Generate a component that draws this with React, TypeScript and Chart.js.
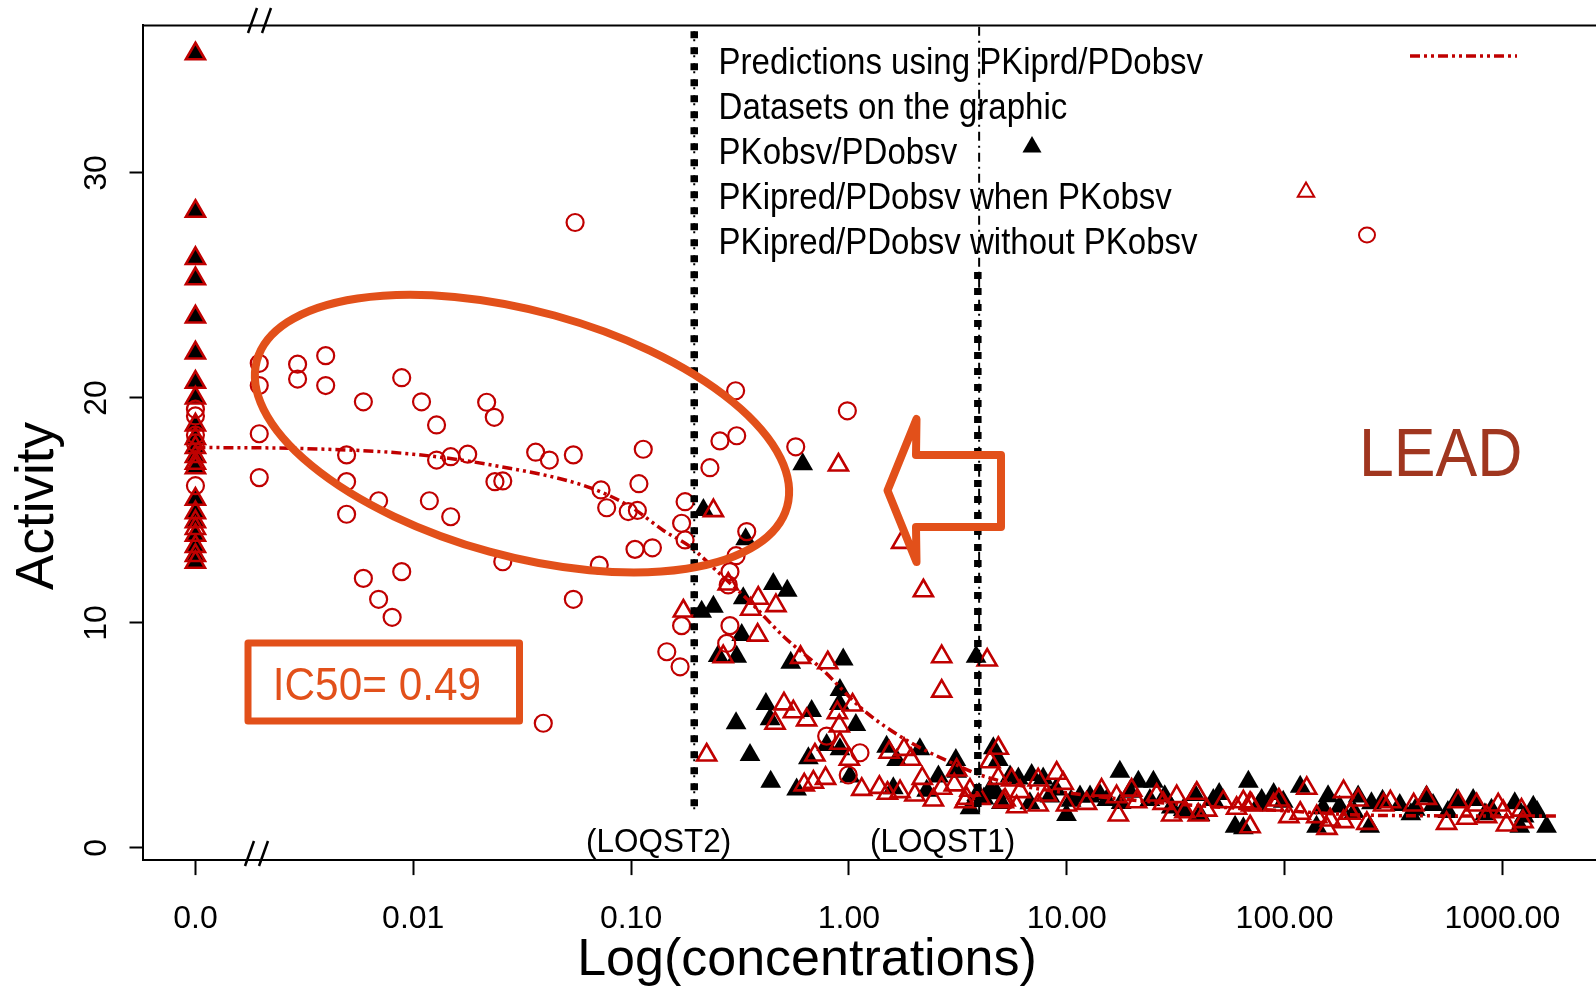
import React, { useEffect, useRef } from 'react';
import { Chart, registerables } from 'chart.js';

Chart.register(...registerables);

// ---------- axis ticks ----------
const X_TICK_VALUES = [-3, -2, -1, 0, 1, 2, 3];
const X_TICK_LABELS = ['0.0', '0.01', '0.10', '1.00', '10.00', '100.00', '1000.00'];
const Y_TICK_VALUES = [0, 10, 20, 30];

// ---------- limits of quantification (log10 concentration) ----------
const LOQST2 = -0.71;
const LOQST1 = 0.592;
const LOQST1_THIN = 0.598;
const LOQ_TOP = 36.3;
const LOQ_SPLIT = 25.6;
const LOQ_BOTTOM = 1.5;

// ---------- prediction curve (PKiprd/PDobsv) ----------
const predLogConc = [-3, -2.5, -2.0, -1.6, -1.2, -1.0, -0.85, -0.73, -0.6, -0.45, -0.3, -0.13, 0.07, 0.28, 0.48, 0.6, 0.8, 1.0, 1.5, 2.0, 2.4, 3.0, 3.25];
const predActivity = [17.8, 17.75, 17.5, 16.95, 16.05, 15.15, 14.1, 13.4, 12.25, 10.9, 9.4, 8.0, 6.1, 4.7, 3.75, 3.25, 2.75, 2.45, 1.95, 1.65, 1.45, 1.42, 1.42];

// ---------- PKobsv/PDobsv (black filled triangles) ----------
const pkObsvLogConc = [
  -3, -3, -3, -3, -3, -3, -3, -3, -3, -3, -3, -3, -3, -3, -3, -3, -3, -3, -3, -3,
  -0.212, -0.668, -0.474, -0.347, -0.283, -0.485, -0.622, -0.676, -0.492, -0.600,
  -0.515, -0.267, -0.026, 0.584, -0.041, -0.381, -0.044, -0.171, -0.362, -0.518,
  0.032, -0.102, -0.041, -0.186, -0.454, 0.173, 0.326, 0.219, 0.491, -0.359,
  -0.240, 0.005, 0.204, 0.357, 0.411, 0.495, 0.587, 0.663, 0.678,
  0.686, 0.556, 0.648, 0.740, 0.778, 0.839, 0.892, 0.999, 1.061, 1.244,
  1.329, 1.398, 1.184, 1.290, 1.589, 1.673, 1.834, 1.773, 1.535, 1.612,
  0.923, 0.831, 1.107, 1.382,
  2.072, 1.994, 1.895, 2.338, 2.399, 2.529, 2.652, 2.682, 2.790, 2.866,
  3.057, 3.142, 3.203, 2.391, 2.177, 2.253, 3.080, 2.147, 1.811,
  0.62, 0.70, 0.95, 1.15, 1.45, 1.70, 1.95, 2.20, 2.45, 2.60, 2.75, 2.95, 3.10,
  1.02, 1.25, 1.48, 1.88, 2.32, 2.58, 2.92, 3.16,
];
const pkObsvActivity = [
  35.3, 28.3, 26.2, 25.3, 23.6, 22.0, 20.7, 20.0, 18.8, 18.2, 17.8, 17.4, 16.9, 15.5, 14.9, 14.5, 13.9, 13.4, 13.0, 12.7,
  17.05, 15.02, 13.72, 11.73, 11.43, 11.10, 10.72, 10.50, 9.46, 8.53,
  8.50, 8.23, 8.38, 8.50, 7.02, 6.40, 6.40, 6.09, 5.72, 5.54,
  5.46, 4.57, 4.38, 3.98, 4.13, 4.50, 4.38, 3.91, 3.91, 2.94,
  2.60, 3.17, 2.65, 2.54, 3.17, 3.39, 2.35, 4.43, 2.43,
  3.91, 1.76, 2.57, 3.17, 3.09, 3.24, 3.09, 1.46, 2.28, 3.39,
  2.94, 2.94, 2.13, 2.50, 2.35, 2.13, 2.94, 0.94, 1.68, 1.46,
  2.28, 1.98, 2.28, 2.13,
  2.72, 2.05, 2.13, 2.28, 1.98, 1.91, 2.28, 1.91, 2.13, 2.13,
  1.98, 1.83, 0.94, 0.94, 1.76, 1.83, 0.94, 0.94, 0.87,
  2.2, 2.0, 2.6, 2.4, 2.3, 2.4, 2.4, 2.3, 2.1, 1.7, 1.6, 1.7, 1.4,
  2.1, 2.0, 1.8, 1.9, 1.6, 1.5, 1.5, 1.6,
];

// ---------- PKipred/PDobsv when PKobsv (red open triangles) ----------
const pkiPredObsLogConc = [
  -3, -3, -3, -3, -3, -3, -3, -3, -3, -3, -3, -3, -3, -3, -3, -3, -3, -3, -3, -3, -3, -3,
  -0.048, -0.622, 0.242, -0.554, -0.416, -0.335, -0.451, 0.342, -0.760, -0.419,
  -0.577, -0.222, -0.097, 0.426, 0.635, 0.426, -0.298, -0.255, -0.194, -0.339,
  -0.053, 0.017, -0.044, -0.041, -0.653, -0.156, 0.002, 0.185, 0.253, 0.285,
  -0.205, -0.163, -0.107, 0.059, 0.140, 0.177, 0.235, 0.303, 0.337, 0.388,
  0.426, 0.484, 0.541, 0.686, 0.648, 0.686, 0.709,
  0.495, 0.747, 0.556, 0.533, 0.602, 0.717, 0.786, 0.770, 0.869, 0.954,
  0.984, 0.908, 0.869, 0.999, 1.091, 1.160, 1.229, 1.237, 1.298, 1.321,
  1.413, 1.443, 1.505, 1.482, 1.543, 1.597, 1.604, 1.643, 1.719, 1.780,
  1.811, 1.842, 1.849,
  2.102, 2.271, 2.338, 1.842, 1.950, 2.072, 2.148, 2.210, 2.302, 2.378,
  2.195, 2.455, 2.486, 2.593, 2.652, 2.744, 2.797, 2.836, 2.882, 2.928,
  2.981, 3.004, 3.019, 3.088, 3.095, 1.974, 2.271, 2.020,
];
const pkiPredObsActivity = [
  35.3, 28.3, 26.2, 25.3, 23.6, 22.0, 20.7, 20.0, 18.8, 18.2, 17.8, 17.4, 16.9, 15.5, 14.9, 14.5, 13.9, 13.4, 13.0, 12.7, 17.1, 14.2,
  17.02, 14.99, 13.58, 11.73, 11.10, 10.77, 10.61, 11.43, 10.53, 9.46,
  8.50, 8.47, 8.23, 8.50, 8.35, 6.97, 6.40, 6.05, 5.69, 5.54,
  6.01, 6.35, 5.42, 4.65, 4.13, 4.13, 3.94, 4.25, 4.38, 3.94,
  2.80, 2.92, 3.09, 2.60, 2.69, 2.43, 2.50, 2.35, 3.09, 2.13,
  2.65, 2.80, 2.20, 4.43, 3.83, 3.09, 2.05,
  3.46, 3.02, 2.57, 2.05, 2.20, 2.13, 2.50, 1.83, 3.02, 3.32,
  2.87, 2.35, 1.91, 1.91, 1.98, 2.57, 2.28, 1.46, 2.57, 2.05,
  2.35, 1.98, 2.28, 1.46, 1.61, 2.43, 1.46, 1.68, 2.05, 1.76,
  2.05, 0.94, 1.91,
  2.65, 2.50, 2.13, 1.98, 1.91, 1.54, 1.39, 1.24, 1.54, 1.09,
  0.87, 1.91, 2.05, 1.91, 2.20, 1.09, 2.05, 1.32, 1.91, 1.39,
  1.91, 1.61, 1.02, 1.68, 1.17, 2.13, 1.17, 1.39,
];

// ---------- PKipred/PDobsv without PKobsv (red open circles) ----------
const pkiPredNoObsLogConc = [
  -3, -3, -3, -3, -3,
  -2.707, -2.707, -2.531, -2.531, -2.402, -2.402, -2.707, -2.707, -2.229, -2.053,
  -1.962, -1.893, -1.663, -1.628, -2.306, -2.306, -2.159, -2.306, -1.926, -1.893,
  -1.828, -1.750, -1.828, -1.625, -1.589, -1.438, -1.375, -1.265, -0.944, -0.964,
  -1.138, -1.112, -1.013, -0.971, -0.752, -0.768, -0.752, -0.982, -0.902, -1.589,
  -1.146, -2.229, -2.053, -2.159, -2.097, -1.265, -0.768, -0.836, -0.775, -1.403,
  -1.257,
  -0.520, -0.007, -0.592, -0.515, -0.244, -0.638, -0.469, -0.518, -0.546, -0.554,
  -0.546, -0.561, -0.102, 0.051, -0.003,
];
const pkiPredNoObsActivity = [
  19.5, 19.2, 18.35, 18.0, 16.1,
  21.54, 20.55, 21.50, 20.84, 21.88, 20.55, 18.41, 16.46, 19.83, 20.90,
  19.83, 18.80, 19.81, 19.14, 17.47, 16.28, 15.43, 14.83, 15.43, 17.24,
  17.39, 17.50, 14.72, 16.28, 16.31, 17.59, 17.24, 17.47, 17.72, 16.19,
  15.91, 15.12, 14.95, 15.00, 15.39, 14.43, 13.69, 13.27, 13.34, 12.72,
  12.57, 11.98, 12.28, 11.05, 10.25, 11.05, 9.88, 8.72, 8.05, 5.54,
  27.8,
  20.32, 19.43, 18.09, 18.32, 17.83, 16.90, 14.06, 12.99, 12.28, 11.69,
  9.88, 9.09, 4.97, 4.23, 3.24,
];

// ---------- texts ----------
const LEGEND_LABELS = [
  'Predictions using PKiprd/PDobsv',
  'Datasets on the graphic',
  'PKobsv/PDobsv',
  'PKipred/PDobsv when PKobsv',
  'PKipred/PDobsv without PKobsv',
];
const X_TITLE = 'Log(concentrations)';
const Y_TITLE = 'Activity';
const IC50_TEXT = 'IC50= 0.49';
const LEAD_TEXT = 'LEAD';
const LOQ_LABELS = ['(LOQST2)', '(LOQST1)'];

const RED = '#C00000';
const ORANGE = '#E2501A';
const LEAD_COLOR = '#A0361F';
const FONT = '"Liberation Sans", Arial, Helvetica, sans-serif';

const pts = (xs: number[], ys: number[]) => xs.map((x, i) => ({ x, y: ys[i] }));

function drawText(ctx: CanvasRenderingContext2D, str: string, x: number, y: number, size: number, color: string, align: CanvasTextAlign = 'left', sx = 1, rot = 0) {
  ctx.save();
  ctx.translate(x, y);
  if (rot) ctx.rotate(rot);
  ctx.scale(sx, 1);
  ctx.font = `${size}px ${FONT}`;
  ctx.fillStyle = color;
  ctx.textAlign = align;
  ctx.textBaseline = 'alphabetic';
  ctx.fillText(str, 0, 0);
  ctx.restore();
}

function triPath(ctx: CanvasRenderingContext2D, x: number, y: number, r: number) {
  let rad = 0;
  ctx.beginPath();
  ctx.moveTo(x + Math.sin(rad) * r, y - Math.cos(rad) * r);
  rad += (2 * Math.PI) / 3;
  ctx.lineTo(x + Math.sin(rad) * r, y - Math.cos(rad) * r);
  rad += (2 * Math.PI) / 3;
  ctx.lineTo(x + Math.sin(rad) * r, y - Math.cos(rad) * r);
  ctx.closePath();
}

const overlayPlugin = {
  id: 'overlay',
  afterDraw(chart: any) {
    const ctx: CanvasRenderingContext2D = chart.ctx;
    const { left, right, top } = chart.chartArea;
    ctx.save();

    // top frame line
    ctx.strokeStyle = '#000';
    ctx.lineWidth = 2;
    ctx.beginPath();
    ctx.moveTo(left, top);
    ctx.lineTo(right, top);
    ctx.stroke();

    // axis break marks
    ctx.lineWidth = 2.5;
    const breaks = [
      [248, 33, 257, 8], [262, 33, 271, 8],
      [245, 866, 254, 841], [259, 866, 268, 841],
    ];
    breaks.forEach(([x1, y1, x2, y2]) => {
      ctx.beginPath();
      ctx.moveTo(x1, y1);
      ctx.lineTo(x2, y2);
      ctx.stroke();
    });

    // legend
    const legendY = [73.5, 119, 164, 208.5, 254];
    LEGEND_LABELS.forEach((t, i) => drawText(ctx, t, 718.6, legendY[i], 36, '#000', 'left', 0.917));
    ctx.strokeStyle = RED;
    ctx.lineWidth = 3.5;
    ctx.setLineDash([10, 4, 3, 4, 3, 4]);
    ctx.beginPath();
    ctx.moveTo(1410, 56);
    ctx.lineTo(1517, 56);
    ctx.stroke();
    ctx.setLineDash([]);
    ctx.fillStyle = '#000';
    triPath(ctx, 1032, 147, 11);
    ctx.fill();
    ctx.strokeStyle = RED;
    ctx.lineWidth = 2;
    triPath(ctx, 1306, 192, 9.5);
    ctx.stroke();
    ctx.beginPath();
    ctx.ellipse(1367, 235, 8, 7.5, 0, 0, Math.PI * 2);
    ctx.stroke();

    // LOQ labels
    drawText(ctx, LOQ_LABELS[0], 658.6, 852, 34, '#000', 'center', 0.925);
    drawText(ctx, LOQ_LABELS[1], 942.6, 852, 34, '#000', 'center', 0.925);

    // axis titles
    drawText(ctx, X_TITLE, 807, 975, 52, '#000', 'center');
    drawText(ctx, Y_TITLE, 53, 506, 53, '#000', 'center', 1, -Math.PI / 2);

    // orange ellipse
    ctx.strokeStyle = ORANGE;
    ctx.lineWidth = 8;
    ctx.beginPath();
    ctx.ellipse(522, 433.6, 275, 122.5, (15.4 * Math.PI) / 180, 0, Math.PI * 2);
    ctx.stroke();

    // IC50 box
    ctx.lineWidth = 7;
    ctx.lineJoin = 'round';
    ctx.beginPath();
    ctx.rect(248, 643, 271.5, 78);
    ctx.stroke();
    drawText(ctx, IC50_TEXT, 272.8, 700.3, 46, ORANGE, 'left', 0.92);

    // arrow
    ctx.lineWidth = 8;
    ctx.lineJoin = 'round';
    ctx.lineCap = 'round';
    ctx.beginPath();
    ctx.moveTo(887.5, 490.5);
    ctx.lineTo(916.5, 419);
    ctx.lineTo(916, 455);
    ctx.lineTo(1001, 455);
    ctx.lineTo(1001, 527);
    ctx.lineTo(916, 527);
    ctx.lineTo(916.5, 562);
    ctx.closePath();
    ctx.stroke();

    // LEAD
    drawText(ctx, LEAD_TEXT, 1359, 476.4, 68, LEAD_COLOR, 'left', 0.92);

    ctx.restore();
  },
};

export default function App() {
  const canvasRef = useRef<HTMLCanvasElement | null>(null);

  useEffect(() => {
    if (!canvasRef.current) return;
    const tickFont = { family: FONT, size: 32 };
    const chart = new Chart(canvasRef.current, {
      type: 'scatter',
      data: {
        datasets: [
          {
            type: 'line',
            label: 'LOQST2',
            data: pts([LOQST2, LOQST2], [LOQ_TOP, LOQ_BOTTOM]),
            borderColor: '#000',
            borderWidth: 7.5,
            borderDash: [7, 9],
            pointRadius: 0,
            showLine: true,
            order: 1,
          },
          {
            type: 'line',
            label: 'LOQST2 thin',
            data: pts([LOQST2, LOQST2], [LOQ_TOP, LOQ_BOTTOM]),
            borderColor: '#000',
            borderWidth: 2,
            borderDash: [2, 6],
            pointRadius: 0,
            showLine: true,
            order: 1,
          },
          {
            type: 'line',
            label: 'LOQST1',
            data: pts([LOQST1, LOQST1], [LOQ_SPLIT, LOQ_BOTTOM]),
            borderColor: '#000',
            borderWidth: 7.5,
            borderDash: [7, 9],
            pointRadius: 0,
            showLine: true,
            order: 1,
          },
          {
            type: 'line',
            label: 'LOQST1 thin',
            data: pts([LOQST1_THIN, LOQST1_THIN], [LOQ_TOP + 0.2, LOQ_BOTTOM]),
            borderColor: '#000',
            borderWidth: 2,
            borderDash: [9, 5, 2, 5],
            pointRadius: 0,
            showLine: true,
            order: 1,
          },
          {
            type: 'line',
            label: 'Predictions using PKiprd/PDobsv',
            data: pts(predLogConc, predActivity),
            borderColor: RED,
            borderWidth: 3.5,
            borderDash: [10, 4, 3, 4, 3, 4],
            cubicInterpolationMode: 'monotone',
            pointRadius: 0,
            showLine: true,
            order: 2,
          },
          {
            label: 'PKipred/PDobsv without PKobsv',
            data: pts(pkiPredNoObsLogConc, pkiPredNoObsActivity),
            pointStyle: 'circle',
            pointRadius: 8.5,
            borderWidth: 2.2,
            borderColor: RED,
            backgroundColor: 'rgba(0,0,0,0)',
            order: 3,
          },
          {
            label: 'PKipred/PDobsv when PKobsv',
            data: pts(pkiPredObsLogConc, pkiPredObsActivity),
            pointStyle: 'triangle',
            pointRadius: 11,
            borderWidth: 2.6,
            borderColor: RED,
            backgroundColor: 'rgba(0,0,0,0)',
            order: 4,
          },
          {
            label: 'PKobsv/PDobsv',
            data: pts(pkObsvLogConc, pkObsvActivity),
            pointStyle: 'triangle',
            pointRadius: 12,
            borderWidth: 0,
            borderColor: '#000',
            backgroundColor: '#000',
            order: 5,
          },
        ],
      },
      options: {
        responsive: true,
        maintainAspectRatio: false,
        animation: false,
        events: [],
        layout: { autoPadding: false, padding: { top: 25.4, left: 0, right: 0, bottom: 0 } },
        plugins: {
          legend: { display: false },
          tooltip: { enabled: false },
          title: { display: false },
        },
        scales: {
          x: {
            type: 'linear',
            position: 'bottom',
            min: -3.243,
            max: 3.43,
            afterBuildTicks: (s: any) => {
              s.ticks = X_TICK_VALUES.map((v) => ({ value: v }));
            },
            afterFit: (s: any) => {
              s.height = 126.9;
              s.paddingLeft = 0;
              s.paddingRight = 0;
            },
            ticks: {
              autoSkip: false,
              maxRotation: 0,
              minRotation: 0,
              padding: 25,
              color: '#000',
              font: tickFont,
              callback: (v: any) => X_TICK_LABELS[X_TICK_VALUES.indexOf(Number(v))],
            },
            grid: {
              display: true,
              drawOnChartArea: false,
              drawTicks: true,
              tickLength: 15,
              tickColor: '#000',
              tickWidth: 2,
            },
            border: { display: true, color: '#000', width: 2 },
          },
          y: {
            type: 'linear',
            position: 'left',
            min: -0.542,
            max: 36.56,
            afterBuildTicks: (s: any) => {
              s.ticks = Y_TICK_VALUES.map((v) => ({ value: v }));
            },
            afterFit: (s: any) => {
              s.width = 142.5;
              s.paddingTop = 0;
              s.paddingBottom = 0;
            },
            ticks: {
              autoSkip: false,
              minRotation: 90,
              maxRotation: 90,
              crossAlign: 'center',
              padding: 15,
              color: '#000',
              font: tickFont,
              callback: (v: any) => String(v),
            },
            grid: {
              display: true,
              drawOnChartArea: false,
              drawTicks: true,
              tickLength: 13,
              tickColor: '#000',
              tickWidth: 2,
            },
            border: { display: true, color: '#000', width: 2 },
          },
        },
      } as any,
      plugins: [overlayPlugin],
    } as any);
    return () => chart.destroy();
  }, []);

  return (
    <div style={{ position: 'fixed', left: 0, top: 0, width: 1596, height: 987, background: '#fff' }}>
      <canvas ref={canvasRef} />
    </div>
  );
}
